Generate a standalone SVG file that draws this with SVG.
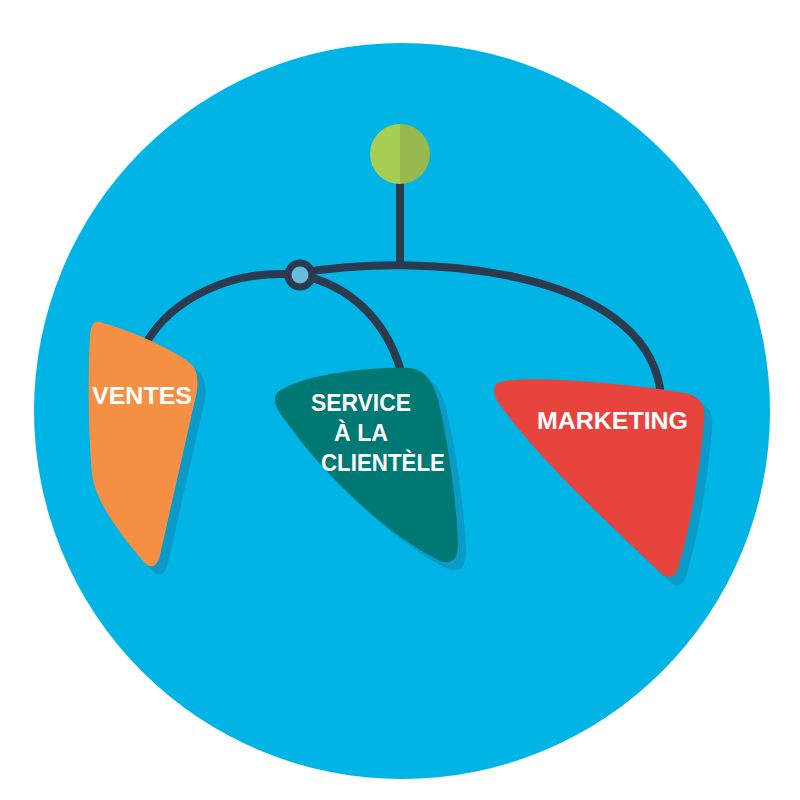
<svg xmlns="http://www.w3.org/2000/svg" width="800" height="800" viewBox="0 0 800 800">
<style>
.wire{fill:none;stroke:#2B3A4C;stroke-width:8;stroke-linecap:round}
.lbl{font-family:"Liberation Sans",Arial,sans-serif;font-weight:bold;font-size:24px;fill:#FFFFFF}
.shadow{fill:#0A9BC9}
</style>
<rect width="800" height="800" fill="#FFFFFF"/>
<circle cx="402" cy="411" r="368" fill="#00B5E6"/>
<g id="connectors">
<line class="wire" x1="400" y1="180" x2="400" y2="263"/>
<path class="wire" d="M300,273 C420,252 640,268 660,388"/>
<path class="wire" d="M300,275 C230,268 170,300 145,345"/>
<path class="wire" d="M300,275 C350,285 385,320 400,368"/>
</g>
<g id="top">
<path d="M400,124 A30,30 0 0,0 400,184 Z" fill="#A6CE55"/>
<path d="M400,124 A30,30 0 0,1 400,184 Z" fill="#97B94D"/>
</g>
<g id="joint">
<circle cx="300" cy="275" r="12" fill="#6BBBE0" stroke="#2B3A4C" stroke-width="7"/>
</g>
<g id="ventes">
<path class="shadow" transform="translate(8,8)" d="M100,322 C130,330 175,350 191,364 C200,372 198,390 195,400 L160,555 C157,568 150,570 142,560 C115,528 96,500 92,475 C88,430 88,370 90,335 C91,324 95,320 100,322 Z"/>
<path d="M100,322 C130,330 175,350 191,364 C200,372 198,390 195,400 L160,555 C157,568 150,570 142,560 C115,528 96,500 92,475 C88,430 88,370 90,335 C91,324 95,320 100,322 Z" fill="#F58F43"/>
<text class="lbl" x="92" y="404" textLength="100" lengthAdjust="spacingAndGlyphs">VENTES</text>
</g>
<g id="service">
<path class="shadow" transform="translate(8,8)" d="M278,392 C300,375 370,366 410,368 C425,370 432,380 438,400 C448,440 456,500 458,540 C459,560 452,566 438,560 C380,530 320,470 285,420 C275,408 272,398 278,392 Z"/>
<path d="M278,392 C300,375 370,366 410,368 C425,370 432,380 438,400 C448,440 456,500 458,540 C459,560 452,566 438,560 C380,530 320,470 285,420 C275,408 272,398 278,392 Z" fill="#007873"/>
<text class="lbl" x="311" y="411" textLength="100" lengthAdjust="spacingAndGlyphs">SERVICE</text>
<text class="lbl" x="334" y="441" textLength="54" lengthAdjust="spacingAndGlyphs">À LA</text>
<text class="lbl" x="321" y="471" textLength="124" lengthAdjust="spacingAndGlyphs">CLIENTÈLE</text>
</g>
<g id="marketing">
<path class="shadow" transform="translate(8,8)" d="M500,382 C530,374 640,385 685,393 C700,396 706,405 704,420 C700,470 690,530 678,568 C675,578 668,580 660,572 C610,525 540,460 500,405 C492,394 492,385 500,382 Z"/>
<path d="M500,382 C530,374 640,385 685,393 C700,396 706,405 704,420 C700,470 690,530 678,568 C675,578 668,580 660,572 C610,525 540,460 500,405 C492,394 492,385 500,382 Z" fill="#E8443E"/>
<text class="lbl" x="537" y="429" textLength="151" lengthAdjust="spacingAndGlyphs">MARKETING</text>
</g>
</svg>
